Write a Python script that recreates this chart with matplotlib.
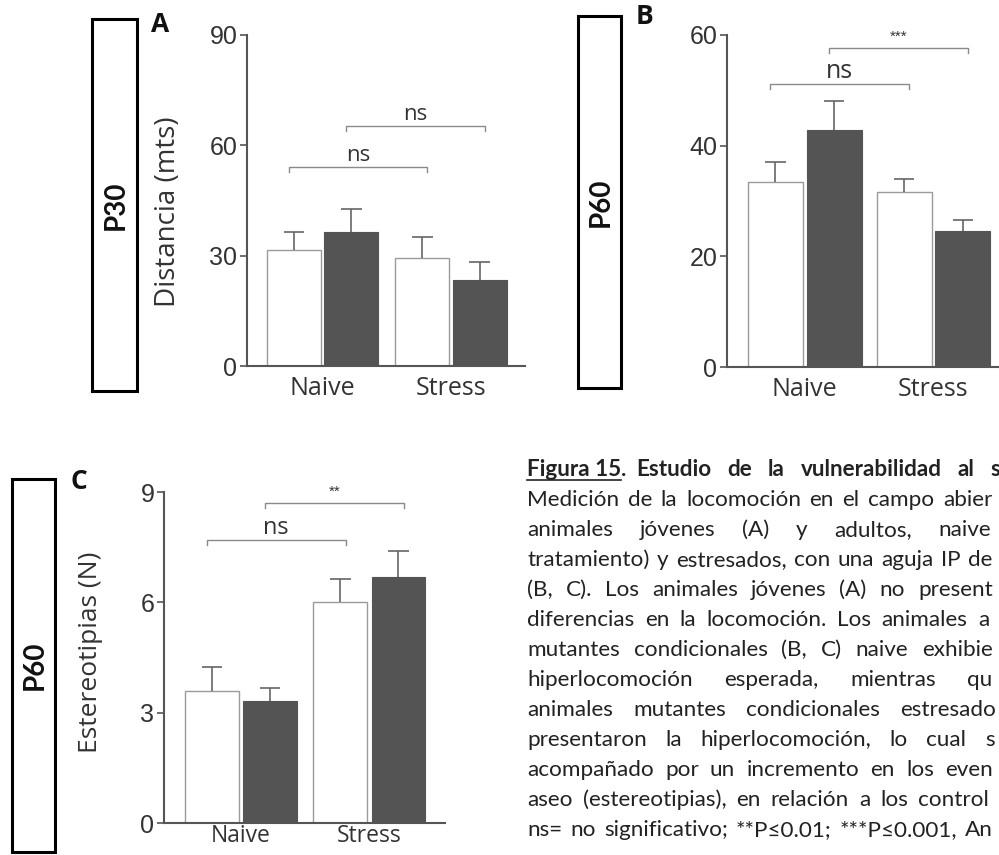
import matplotlib
matplotlib.use("Agg")
import matplotlib.pyplot as plt
from matplotlib.patches import Rectangle
from matplotlib.lines import Line2D
import numpy as np

W, H = 999, 855
DPI = 100

# ---------------- data ----------------
groups = ["Naive", "Stress"]

a_white = [31.5, 29.5]
a_white_err = [4.8, 5.7]
a_dark = [36.3, 23.5]
a_dark_err = [6.4, 4.9]

b_white = [33.4, 31.7]
b_white_err = [3.7, 2.2]
b_dark = [42.8, 24.6]
b_dark_err = [5.3, 2.0]

c_white = [3.6, 6.0]
c_white_err = [0.65, 0.64]
c_dark = [3.33, 6.7]
c_dark_err = [0.34, 0.7]

a_ticks = [0, 30, 60, 90]
b_ticks = [0, 20, 40, 60]
c_ticks = [0, 3, 6, 9]

# brackets: (bar index from, bar index to, y, label); bar index 0..3 = white1, dark1, white2, dark2
a_brackets = [(0, 2, 54.2, "ns"), (1, 3, 65.3, "ns")]
b_brackets = [(0, 2, 51.1, "ns"), (1, 3, 57.6, "***")]
c_brackets = [(0, 2, 7.7, "ns"), (1, 3, 8.7, "**")]

title_words = ["Estudio", "de", "la", "vulnerabilidad", "al", "stress"]
caption_lines = [
    "Medición de la locomoción en el campo abierto",
    "animales jóvenes (A) y adultos, naive",
    "tratamiento) y estresados, con una aguja IP de",
    "(B, C). Los animales jóvenes (A) no presentaron",
    "diferencias en la locomoción. Los animales adultos",
    "mutantes condicionales (B, C) naive exhibieron",
    "hiperlocomoción esperada, mientras que",
    "animales mutantes condicionales estresados",
    "presentaron la hiperlocomoción, lo cual se",
    "acompañado por un incremento en los eventos",
    "aseo (estereotipias), en relación a los controles",
    "ns= no significativo; **P≤0.01; ***P≤0.001, Anova",
]
# x (px) where the last visible word of each line starts (justified text)
title_last_x = 990
caption_last_x = [943, 938, 968, 918, 978, 922, 967, 900, 985, 945, 918, 965]

# ---------------- figure ----------------
fig = plt.figure(figsize=(W / DPI, H / DPI), dpi=DPI)
fig.patch.set_facecolor("white")


def rect(left, right, top, bottom):
    return [left / W, 1 - bottom / H, (right - left) / W, (bottom - top) / H]


GRAY = "#555555"
DARK = "#545454"
EDGE = "#9a9a9a"
TICKFONT = "Liberation Sans"
LABFONT = "Open Sans"
TXT = "#333333"


def panel(ax, white, werr, dark, derr, ymax, ticks, brackets,
          bw, off, xlim, ns_size, star_size, xlab_size=18, xlab_pad=7):
    x = np.arange(len(groups))
    xw = x - off
    xd = x + off
    ax.bar(xw, white, bw, color="white", edgecolor=EDGE, linewidth=1.0, zorder=2)
    ax.bar(xd, dark, bw, color=DARK, edgecolor=DARK, linewidth=0.8, zorder=2)
    cw = 0.08
    for xs, m, e in ((xw, white, werr), (xd, dark, derr)):
        tops = np.array(m) + np.array(e)
        ax.vlines(xs, m, tops, color="#666666", lw=1.2, zorder=3)
        ax.hlines(tops, xs - cw, xs + cw, color="#666666", lw=1.2, zorder=3)
    ax.set_xlim(*xlim)
    ax.set_ylim(0, ymax)
    ax.set_yticks(ticks)
    ax.set_yticklabels([str(t) for t in ticks], fontfamily=TICKFONT, fontsize=18,
                       color=TXT)
    ax.set_xticks(x)
    ax.set_xticklabels(groups, fontfamily=LABFONT, fontsize=xlab_size, color=TXT)
    ax.tick_params(axis="x", length=0, pad=xlab_pad)
    ax.tick_params(axis="y", length=5, width=1.2, color=GRAY, pad=2, direction="out")
    for s in ("top", "right"):
        ax.spines[s].set_visible(False)
    for s in ("left", "bottom"):
        ax.spines[s].set_color(GRAY)
        ax.spines[s].set_linewidth(1.5)
    ax.set_facecolor("none")
    pxu = 331.0 / ymax  # pixels per data unit
    positions = [xw[0], xd[0], xw[1], xd[1]]
    for i0, i1, y, lab in brackets:
        x0 = positions[i0] - 0.04
        x1 = positions[i1] + 0.04
        tk = 5 / pxu
        ax.plot([x0, x0, x1, x1], [y - tk, y, y, y - tk], color="#8a8a8a", lw=1.0,
                clip_on=False, zorder=4)
        if lab == "ns":
            ax.text((x0 + x1) / 2, y + 6 / pxu, lab, ha="center", va="baseline",
                    fontsize=ns_size, fontfamily=LABFONT, color=TXT, clip_on=False)
        else:
            ax.text((x0 + x1) / 2, y + 11 / pxu, lab, ha="center", va="center",
                    fontsize=star_size, fontfamily=TICKFONT, color=TXT, clip_on=False)
    return ax


# Panel A
axA = fig.add_axes(rect(247, 525, 35, 366))
panel(axA, a_white, a_white_err, a_dark, a_dark_err, 90, a_ticks, a_brackets,
      0.42, 0.224, (-0.59, 1.577), 16, 11)
axA.set_ylabel("Distancia (mts)", fontfamily=LABFONT, fontsize=20, color=TXT)
axA.yaxis.set_label_coords(-0.234, 0.465)

# Panel B
axB = fig.add_axes(rect(727, 1000, 35, 367))
panel(axB, b_white, b_white_err, b_dark, b_dark_err, 60, b_ticks, b_brackets,
      0.427, 0.228, (-0.604, 1.517), 18, 11)

# Panel C
axC = fig.add_axes(rect(164, 445, 492, 823))
panel(axC, c_white, c_white_err, c_dark, c_dark_err, 9, c_ticks, c_brackets,
      0.42, 0.226, (-0.599, 1.588), 17, 11, xlab_size=16.5, xlab_pad=1)
axC.set_ylabel("Estereotipias (N)", fontfamily=LABFONT, fontsize=19, color=TXT)
axC.yaxis.set_label_coords(-0.217, 0.517)

# ---------------- boxes with age labels ----------------
boxes = [(92, 137, 19, 391, "P30"), (578, 621, 16, 388, "P60"), (12, 55, 479, 852, "P60")]
for l, r, t, b, lab in boxes:
    fig.patches.append(Rectangle((l / W, 1 - b / H), (r - l) / W, (b - t) / H,
                                 transform=fig.transFigure, fill=False,
                                 edgecolor="black", linewidth=2.2))
    fig.text((l + r) / 2 / W + 0.001, 1 - ((t + b) / 2) / H, lab, rotation=90,
             ha="center", va="center", fontsize=20, fontweight="bold",
             fontfamily="Lato", color="#111111")

# panel letters
for x, y, lab in ((160, 25, "A"), (645, 17, "B"), (79, 481, "C")):
    fig.text(x / W, 1 - y / H, lab, ha="center", va="center", fontsize=19,
             fontweight="bold", fontfamily="Open Sans", color="#111111")

# ---------------- caption ----------------
CAPFONT = "Lato"
CAPSIZE = 16.2
x0 = 527
base0 = 476
RIGHT = 996
fig.canvas.draw()
renderer = fig.canvas.get_renderer()


def text_width(s, **kw):
    t = fig.text(0, 0, s, **kw)
    w = t.get_window_extent(renderer).width
    t.remove()
    return w


def fit_last(word, xl, **kw):
    while len(word) > 1 and xl + text_width(word, **kw) > RIGHT:
        word = word[:-1]
    return word


def justify(words, start, xl, y, **kw):
    wds = [text_width(w, **kw) for w in words[:-1]]
    n_gaps = len(words) - 1
    min_gap = text_width("a a", **kw) - 2 * text_width("a", **kw)
    gap = max((xl - start - sum(wds)) / n_gaps, min_gap)
    xc = start
    for w, wd in zip(words[:-1], wds):
        fig.text(xc / W, y, w, **kw)
        xc += wd + gap
    xl = max(xl, xc)
    fig.text(xl / W, y, fit_last(words[-1], xl, **kw), **kw)


bkw = dict(fontsize=CAPSIZE, fontweight="bold", fontfamily=CAPFONT, va="baseline",
           color="#222222")
ty = 1 - base0 / H
t1 = fig.text(x0 / W, ty, "Figura 15", **bkw)
w1 = t1.get_window_extent(renderer).width
fig.lines.append(Line2D([x0 / W, (x0 + w1) / W], [1 - (base0 + 4) / H] * 2,
                        transform=fig.transFigure, color="#222222", lw=1.2))
fig.text((x0 + w1) / W, ty, ".", **bkw)
start = x0 + w1 + text_width(".", **bkw) + 10
justify(title_words, start, title_last_x, ty, **bkw)

kw = dict(fontsize=CAPSIZE, fontfamily=CAPFONT, va="baseline", color="#222222")
for i, (line, xl) in enumerate(zip(caption_lines, caption_last_x)):
    y = 1 - (base0 + 30 * (i + 1)) / H
    justify(line.split(" "), x0, xl, y, **kw)

fig.savefig("out.png", dpi=DPI)
